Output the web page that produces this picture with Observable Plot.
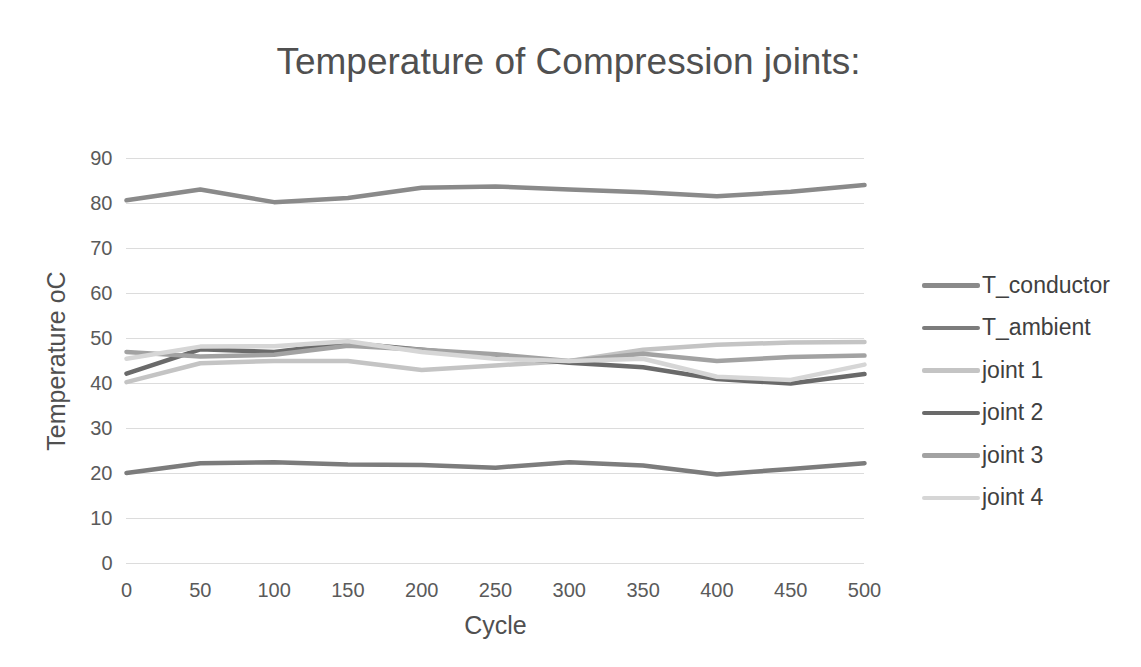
<!DOCTYPE html>
<html>
<head>
<meta charset="utf-8">
<script src="https://cdn.jsdelivr.net/npm/d3@7"></script>
<script src="https://cdn.jsdelivr.net/npm/@observablehq/plot@0.6"></script>
<style>
  html, body { margin: 0; padding: 0; background: #fff; }
  #wrap { position: relative; width: 1141px; height: 667px; overflow: hidden; font-family: "Liberation Sans", Arial, sans-serif; }
  #title { position: absolute; left: 0; top: 43px; width: 1141px; text-align: center; font-size: 37px; line-height: 37px; color: #505050; padding-right: 4px; box-sizing: border-box; }
  #chart { position: absolute; left: 0; top: 120px; }
  #legend { position: absolute; left: 922px; top: 264px; }
  .item { display: flex; align-items: center; height: 42.5px; font-size: 23px; color: #404040; }
  .sw { width: 58px; height: 4.5px; margin-right: 2px; border-radius: 2px; }
</style>
</head>
<body>
<div id="wrap">
  <div id="title">Temperature of Compression joints:</div>
  <div id="chart"></div>
  <div id="legend"></div>
</div>
<script>
const cycles = [0, 50, 100, 150, 200, 250, 300, 350, 400, 450, 500];
const seriesNames = ["T_conductor", "T_ambient", "joint 1", "joint 2", "joint 3", "joint 4"];
const seriesColors = ["#8a8a8a", "#7c7c7c", "#c4c4c4", "#6a6a6a", "#a2a2a2", "#d6d6d6"];
const tConductor = [80.7, 83.1, 80.3, 81.2, 83.5, 83.8, 83.1, 82.5, 81.6, 82.6, 84.1];
const tAmbient   = [20.1, 22.3, 22.5, 22.0, 21.9, 21.3, 22.5, 21.8, 19.8, 21.0, 22.3];
const joint1     = [40.3, 44.5, 45.0, 45.0, 43.0, 44.0, 45.0, 47.5, 48.6, 49.1, 49.2];
const joint2     = [42.2, 47.6, 47.0, 49.0, 47.5, 46.0, 44.6, 43.6, 41.0, 40.0, 42.1];
const joint3     = [47.0, 46.0, 46.4, 48.4, 47.5, 46.5, 45.0, 46.6, 45.0, 45.9, 46.2];
const joint4     = [45.5, 48.2, 48.3, 49.4, 47.0, 45.5, 45.0, 45.5, 41.5, 40.8, 44.2];
const yTicks = [0, 10, 20, 30, 40, 50, 60, 70, 80, 90];
const xTicks = cycles;

const allSeries = [tConductor, tAmbient, joint1, joint2, joint3, joint4];
const rows = [];
seriesNames.forEach((name, i) => {
  cycles.forEach((c, j) => rows.push({series: name, cycle: c, temp: allSeries[i][j]}));
});

const plot = Plot.plot({
  width: 1141,
  height: 547,
  marginLeft: 126,
  marginRight: 277,
  marginTop: 38,
  marginBottom: 104,
  style: { fontFamily: "Liberation Sans, Arial, sans-serif", background: "transparent" },
  x: { domain: [0, 500], ticks: xTicks, tickSize: 0, tickPadding: 20, label: null },
  y: { domain: [0, 90], ticks: yTicks, tickSize: 0, tickPadding: 14, label: null },
  color: { domain: seriesNames, range: seriesColors },
  marks: [
    Plot.gridY(yTicks, { stroke: "#dcdcdc", strokeOpacity: 1, strokeWidth: 1 }),
    Plot.axisX({ ticks: xTicks, tickSize: 0, tickPadding: 19, fontSize: 20, fill: "#5a5a5a", label: null }),
    Plot.axisY({ ticks: yTicks, tickSize: 0, tickPadding: 14, fontSize: 20, fill: "#5a5a5a", label: null }),
    Plot.line(rows, { x: "cycle", y: "temp", z: "series", stroke: "series", strokeWidth: 4.5, strokeLinecap: "round", strokeLinejoin: "round" }),
    Plot.text(["Cycle"], { frameAnchor: "bottom", textAnchor: "middle", dy: 70, fontSize: 25, fill: "#505050" }),
    Plot.text(["Temperature oC"], { frameAnchor: "left", textAnchor: "middle", dx: -70, rotate: -90, fontSize: 25, fill: "#505050" })
  ]
});
document.getElementById("chart").appendChild(plot);

const legend = document.getElementById("legend");
seriesNames.forEach((name, i) => {
  const item = document.createElement("div");
  item.className = "item";
  const sw = document.createElement("div");
  sw.className = "sw";
  sw.style.background = seriesColors[i];
  const label = document.createElement("span");
  label.textContent = name;
  item.appendChild(sw);
  item.appendChild(label);
  legend.appendChild(item);
});
</script>
</body>
</html>
